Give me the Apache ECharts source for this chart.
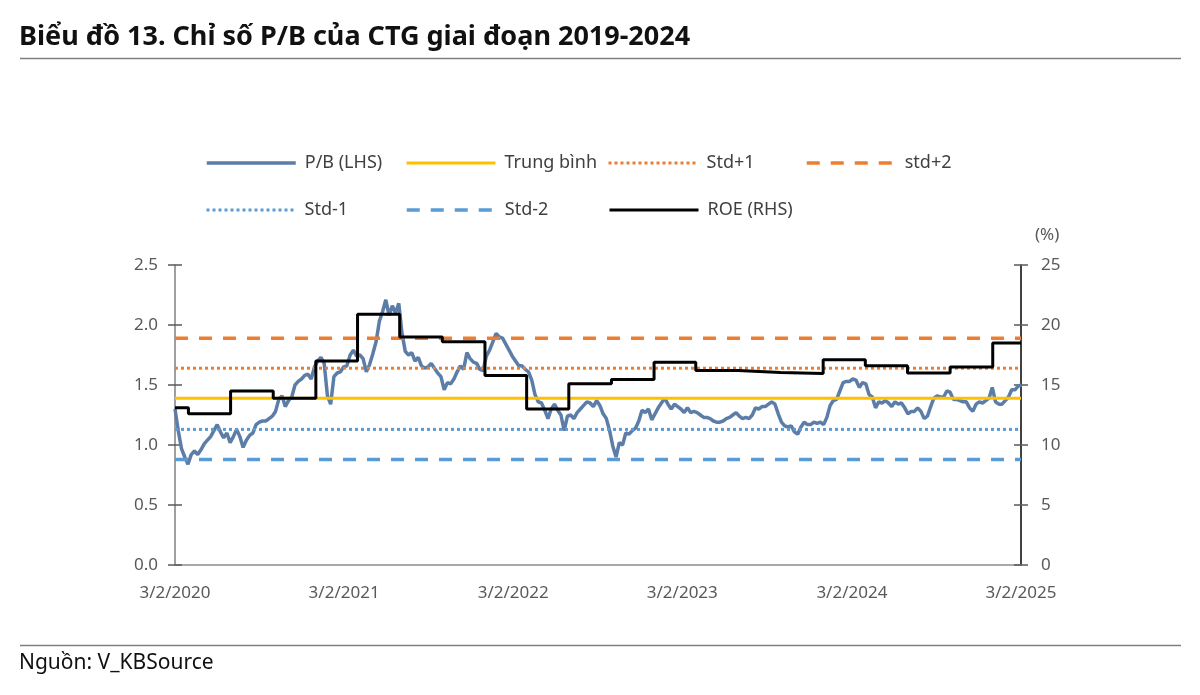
<!DOCTYPE html>
<html><head><meta charset="utf-8">
<script src="https://cdn.jsdelivr.net/npm/echarts@6/dist/echarts.min.js"></script>
<style>html,body{margin:0;padding:0;background:#fff}#c{width:1200px;height:695px}</style>
</head><body><div id="c"></div>
<script>
// ---- data ----
const pbStartDate = '2020-03-02';   // weekly P/B observations start here
const axisStartDate = '2020-03-02';
const axisEndDate = '2025-03-02';
const pbValues = [
 1.30,1.12,0.97,0.90,0.84,0.92,0.95,0.92,0.96,1.01,
 1.04,1.07,1.12,1.17,1.11,1.06,1.10,1.02,1.07,1.13,
 1.07,0.98,1.04,1.08,1.10,1.17,1.19,1.20,1.20,1.22,
 1.24,1.28,1.38,1.41,1.32,1.37,1.40,1.50,1.53,1.55,
 1.58,1.59,1.55,1.65,1.70,1.73,1.68,1.41,1.34,1.57,
 1.60,1.61,1.65,1.66,1.75,1.79,1.74,1.75,1.72,1.61,
 1.67,1.76,1.86,2.03,2.11,2.21,2.08,2.16,2.10,2.18,
 1.93,1.78,1.75,1.77,1.70,1.73,1.66,1.64,1.65,1.68,
 1.64,1.60,1.57,1.46,1.52,1.51,1.55,1.61,1.66,1.63,
 1.77,1.72,1.69,1.68,1.63,1.62,1.74,1.79,1.86,1.93,
 1.90,1.89,1.84,1.79,1.74,1.70,1.66,1.66,1.63,1.61,
 1.54,1.42,1.36,1.35,1.29,1.22,1.30,1.34,1.29,1.25,
 1.12,1.24,1.25,1.22,1.27,1.30,1.33,1.36,1.35,1.32,
 1.37,1.33,1.26,1.22,1.12,0.99,0.90,1.02,1.00,1.10,
 1.09,1.12,1.14,1.20,1.29,1.27,1.30,1.21,1.26,1.31,
 1.35,1.39,1.34,1.30,1.34,1.32,1.30,1.27,1.31,1.27,
 1.28,1.27,1.25,1.23,1.23,1.22,1.20,1.19,1.19,1.20,
 1.22,1.23,1.25,1.27,1.24,1.22,1.23,1.22,1.25,1.31,
 1.30,1.32,1.32,1.34,1.36,1.34,1.26,1.19,1.16,1.15,
 1.16,1.11,1.09,1.15,1.19,1.17,1.17,1.19,1.18,1.19,
 1.17,1.23,1.33,1.37,1.38,1.45,1.52,1.53,1.53,1.55,
 1.54,1.48,1.52,1.51,1.42,1.40,1.31,1.36,1.35,1.37,
 1.35,1.32,1.36,1.34,1.35,1.31,1.26,1.28,1.28,1.31,
 1.28,1.22,1.24,1.32,1.39,1.41,1.40,1.40,1.45,1.44,
 1.38,1.38,1.37,1.36,1.36,1.31,1.28,1.34,1.36,1.35,
 1.37,1.39,1.48,1.36,1.34,1.34,1.37,1.40,1.46,1.46,
 1.49,1.50
];
const roeDates = ['2020-03-02','2020-03-31','2020-06-30','2020-09-30','2020-12-31','2021-03-31','2021-06-30','2021-09-30','2021-12-31','2022-03-31','2022-06-30','2022-09-30','2022-12-31','2023-03-31','2023-06-30','2023-09-30','2023-12-31','2024-03-31','2024-06-30','2024-09-30','2024-12-31','2025-03-02'];
const roeValues = [13.1,12.6,14.5,13.9,17.0,20.9,19.0,18.6,15.8,13.0,15.1,15.45,16.9,16.2,16.05,15.95,17.1,16.6,16.0,16.5,18.5,18.5];
const refNames = ['Trung bình','Std+1','std+2','Std-1','Std-2'];
const refValues = [1.39,1.64,1.89,1.13,0.88];
const xTickDates = ['2020-03-02','2021-03-02','2022-03-02','2023-03-02','2024-03-02','2025-03-02'];

// ---- helpers ----
const DAY = 86400000;
const ts = s => { const p = s.split('-').map(Number); return Date.UTC(p[0], p[1]-1, p[2]); };
const t0 = ts(axisStartDate), tEnd = ts(axisEndDate), pb0 = ts(pbStartDate);
const FONT = 'Noto Sans';

const pbData = pbValues.map((v, i) => [pb0 + i * 7 * DAY, v]);
const roeData = roeDates.map((d, i) => [ts(d), roeValues[i]]);

const refStyles = {
  'Trung bình': {color:'#FFC000', width:3, type:'solid'},
  'Std+1': {color:'#ED7D31', width:3, type:[3,3]},
  'std+2': {color:'#ED7D31', width:3.5, type:[13,11]},
  'Std-1': {color:'#5B9BD5', width:3, type:[3,3]},
  'Std-2': {color:'#5B9BD5', width:3.5, type:[13,11]}
};
const lineWidths = {'P/B (LHS)':3.5, 'ROE (RHS)':3};
refNames.forEach(n => { lineWidths[n] = refStyles[n].width; });

const series = [{
  name:'P/B (LHS)', type:'line', yAxisIndex:0, data:pbData, symbol:'none',
  lineStyle:{color:'#5B7DA8', width:3.5}, itemStyle:{color:'#5B7DA8'}, z:2
}];
refNames.forEach((n, i) => {
  series.push({
    name:n, type:'line', yAxisIndex:0, symbol:'none',
    data:[[t0, refValues[i]], [tEnd, refValues[i]]],
    lineStyle:refStyles[n], itemStyle:{color:refStyles[n].color}, z:3
  });
});
series.push({
  name:'ROE (RHS)', type:'line', yAxisIndex:1, step:'end', symbol:'none',
  data:roeData, lineStyle:{color:'#000', width:3}, itemStyle:{color:'#000'}, z:4
});

const legendText = {fontSize:18, color:'#404040', fontFamily:FONT, padding:[0,0,0,4]};
const legendPos = [
  ['P/B (LHS)', 205, 154], ['Trung bình', 405, 154], ['Std+1', 607, 154], ['std+2', 805, 154],
  ['Std-1', 205, 201], ['Std-2', 405, 201], ['ROE (RHS)', 608, 201]
];
const legends = legendPos.map(p => ({
  data:[p[0]], left:p[1], top:p[2], itemWidth:89, itemHeight:14, padding:0,
  itemStyle:{opacity:0}, lineStyle:{width:lineWidths[p[0]]},
  textStyle:legendText, selectedMode:false
}));

const axisLabelStyle = {color:'#595959', fontSize:17, fontFamily:FONT};
const fmtDate = v => { const d = new Date(v); return (d.getUTCMonth()+1) + '/' + d.getUTCDate() + '/' + d.getUTCFullYear(); };

const option = {
  animation:false,
  backgroundColor:'#fff',
  title:[
    {text:'Biểu đồ 13. Chỉ số P/B của CTG giai đoạn 2019-2024', left:19, top:24, padding:0,
     textStyle:{fontSize:27, fontWeight:'bold', color:'#111', fontFamily:FONT}},
    {text:'Nguồn: V_KBSource', left:19, top:653, padding:0,
     textStyle:{fontSize:21, fontWeight:'normal', color:'#111', fontFamily:FONT}}
  ],
  graphic:[
    {type:'line', shape:{x1:20, y1:58.5, x2:1181, y2:58.5}, style:{stroke:'#7f7f7f', lineWidth:1.5}},
    {type:'line', shape:{x1:20, y1:645.5, x2:1181, y2:645.5}, style:{stroke:'#7f7f7f', lineWidth:1.5}}
  ],
  legend:legends,
  grid:{left:175, right:179, top:265, bottom:130, containLabel:false},
  xAxis:{
    type:'value', min:t0, max:tEnd,
    axisLine:{show:true, lineStyle:{color:'#8c8c8c', width:1.5}},
    axisTick:{show:false}, splitLine:{show:false},
    axisLabel:Object.assign({customValues:xTickDates.map(ts), formatter:fmtDate, margin:20,
      showMinLabel:true, showMaxLabel:true, hideOverlap:false}, axisLabelStyle)
  },
  yAxis:[
    {type:'value', position:'left', min:0, max:2.5, interval:0.5,
     axisLine:{show:true, lineStyle:{color:'#7f7f7f', width:1.5}},
     axisTick:{show:true, inside:false, length:7, lineStyle:{color:'#595959', width:1.5}},
     axisLabel:Object.assign({formatter:v => v.toFixed(1), margin:17}, axisLabelStyle),
     splitLine:{show:false}},
    {type:'value', position:'right', min:0, max:25, interval:5,
     name:'(%)', nameLocation:'end', nameGap:21,
     nameTextStyle:Object.assign({align:'left', padding:[0,0,0,14]}, axisLabelStyle),
     axisLine:{show:true, lineStyle:{color:'#000', width:1.5}},
     axisTick:{show:true, inside:false, length:7, lineStyle:{color:'#595959', width:1.5}},
     axisLabel:Object.assign({margin:20}, axisLabelStyle),
     splitLine:{show:false}},
    {type:'value', position:'left', min:0, max:2.5, interval:0.5,
     axisLine:{show:false}, axisLabel:{show:false}, splitLine:{show:false},
     axisTick:{show:true, inside:true, length:7, lineStyle:{color:'#595959', width:1.5}}},
    {type:'value', position:'right', min:0, max:25, interval:5,
     axisLine:{show:false}, axisLabel:{show:false}, splitLine:{show:false},
     axisTick:{show:true, inside:true, length:7, lineStyle:{color:'#595959', width:1.5}}}
  ],
  series:series
};

const chart = echarts.init(document.getElementById('c'), null, {renderer:'canvas'});
chart.setOption(option);
</script>
</body></html>
